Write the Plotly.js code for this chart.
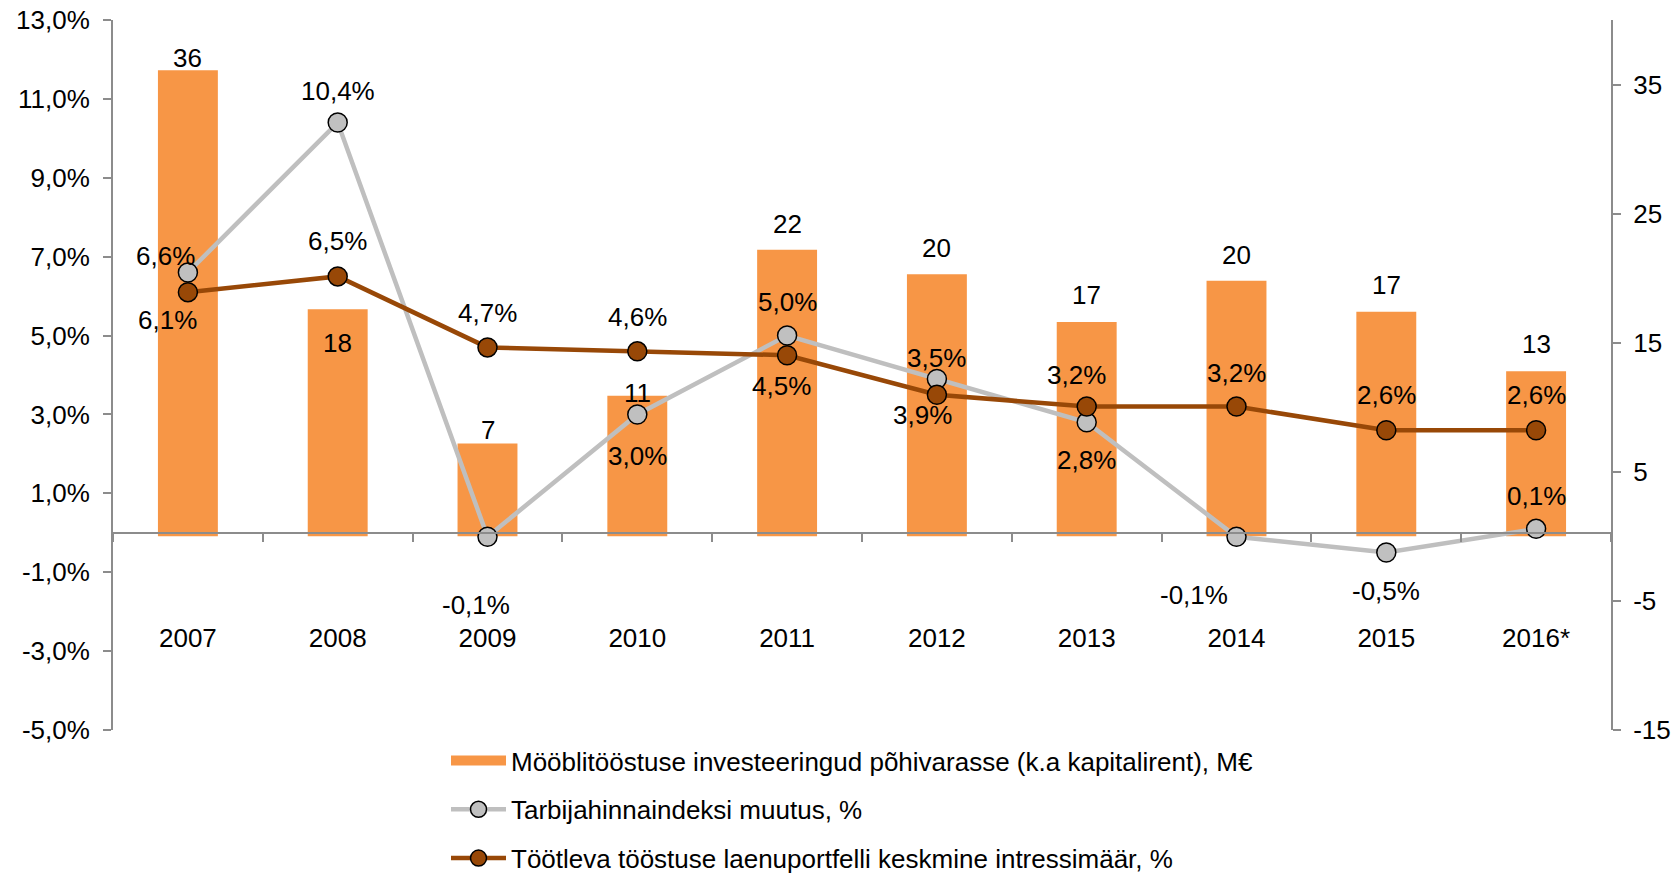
<!DOCTYPE html>
<html><head><meta charset="utf-8">
<script src="https://cdn.plot.ly/plotly-3.0.1.min.js"></script>
<style>html,body{margin:0;padding:0;background:#fff}#chart{width:1675px;height:874px}</style>
</head><body><div id="chart"></div>
<script>
// ---- data ----
const years = ['2007','2008','2009','2010','2011','2012','2013','2014','2015','2016*'];
const investments = [36.1, 17.6, 7.2, 10.9, 22.2, 20.3, 16.6, 19.8, 17.4, 12.8];
const cpiChange = [6.6, 10.4, -0.1, 3.0, 5.0, 3.9, 2.8, -0.1, -0.5, 0.1];
const interestRate = [6.1, 6.5, 4.7, 4.6, 4.5, 3.5, 3.2, 3.2, 2.6, 2.6];
const barName = 'Mööblitööstuse investeeringud põhivarasse (k.a kapitalirent), M€';
const cpiName = 'Tarbijahinnaindeksi muutus, %';
const rateName = 'Töötleva tööstuse laenuportfelli keskmine intressimäär, %';
const leftTicks = [-5, -3, -1, 1, 3, 5, 7, 9, 11, 13];
const rightTicks = [-15, -5, 5, 15, 25, 35];

// ---- label offsets (style, pixels) ----
const barLabelShift = [12, -34, 13, 3, 26, 26, 27, 26, 27, 27];
const cpiLabelShift = [[-22,16],[0,32],[-12,-68],[0,-42],[0,34],[-14,-36],[0,-38],[-43,-58],[0,-38],[0,33]];
const rateLabelShift = [[-20,-28],[0,35],[0,34],[0,34],[-6,-31],[0,37],[-10,32],[0,34],[0,35],[0,35]];

const FONT = 'Liberation Sans, Arial, sans-serif';
const FS = 26;
const AXIS = '#8c8c8c';
const ORANGE = '#F79646';
const pct = v => v.toFixed(1).replace('.', ',') + '%';

const traces = [
  {type:'bar', name:barName, x:years, y:investments, yaxis:'y', xaxis:'x',
   marker:{color:ORANGE}, showlegend:false, hoverinfo:'skip'},
  // legend entry for the bars (wide orange block, as in the original)
  {type:'scatter', mode:'lines', name:barName, x:[years[0]], y:[null], yaxis:'y', xaxis:'x',
   line:{color:ORANGE, width:13}, legendgroup:'a', hoverinfo:'skip'},
  {type:'scatter', mode:'lines+markers', name:cpiName, x:years, y:cpiChange, yaxis:'y2', xaxis:'x',
   line:{color:'#BFBFBF', width:4.5}, marker:{size:19, color:'#C0C0C0', line:{color:'#000', width:1.5}},
   legendgroup:'b', hoverinfo:'skip'},
  {type:'scatter', mode:'lines+markers', name:rateName, x:years, y:interestRate, yaxis:'y2', xaxis:'x',
   line:{color:'#984807', width:4.5}, marker:{size:19, color:'#984807', line:{color:'#000', width:1.5}},
   legendgroup:'c', hoverinfo:'skip'}
];

const ann = [];
years.forEach((yr, i) => {
  ann.push({x:i, y:investments[i], xref:'x', yref:'y', text:String(Math.round(investments[i])),
    showarrow:false, yshift:barLabelShift[i], font:{family:FONT, size:FS, color:'#000'}});
  ann.push({x:i, y:cpiChange[i], xref:'x', yref:'y2', text:pct(cpiChange[i]),
    showarrow:false, xshift:cpiLabelShift[i][0], yshift:cpiLabelShift[i][1], font:{family:FONT, size:FS, color:'#000'}});
  ann.push({x:i, y:interestRate[i], xref:'x', yref:'y2', text:pct(interestRate[i]),
    showarrow:false, xshift:rateLabelShift[i][0], yshift:rateLabelShift[i][1], font:{family:FONT, size:FS, color:'#000'}});
});

const layout = {
  width:1675, height:874,
  margin:{l:113, r:64, t:20, b:144, autoexpand:false},
  paper_bgcolor:'#fff', plot_bgcolor:'rgba(0,0,0,0)',
  font:{family:FONT, size:FS, color:'#000'},
  bargap:0.6,
  showlegend:true,
  legend:{orientation:'v', x:0.2223, y:-0.01, xanchor:'left', yanchor:'top', itemwidth:55,
    font:{family:FONT, size:FS, color:'#000'}, tracegroupgap:12, traceorder:'grouped', bgcolor:'rgba(0,0,0,0)'},
  xaxis:{type:'category', range:[-0.5, 9.5], domain:[0,1], anchor:'free', position:5/18,
    showline:true, linecolor:AXIS, linewidth:2, ticks:'outside', tickson:'boundaries', ticklen:8,
    tickcolor:AXIS, tickwidth:2, ticklabelstandoff:82, tickangle:0, showgrid:false, zeroline:false,
    tickfont:{family:FONT, size:FS, color:'#000'}},
  yaxis:{side:'right', anchor:'x', range:[-15,40], tickvals:rightTicks,
    ticktext:rightTicks.map(String), showline:true, linecolor:AXIS, linewidth:2,
    ticks:'outside', ticklen:8, tickcolor:AXIS, tickwidth:2, ticklabelstandoff:7,
    showgrid:false, zeroline:false, tickfont:{family:FONT, size:FS, color:'#000'}},
  yaxis2:{side:'left', overlaying:'y', anchor:'x', range:[-5,13], tickvals:leftTicks,
    ticktext:leftTicks.map(pct), showline:true, linecolor:AXIS, linewidth:2,
    ticks:'outside', ticklen:8, tickcolor:AXIS, tickwidth:2, ticklabelstandoff:8,
    showgrid:false, zeroline:false, tickfont:{family:FONT, size:FS, color:'#000'}},
  annotations:ann
};

Plotly.newPlot('chart', traces, layout, {displayModeBar:false, staticPlot:true});
</script>
</body></html>
